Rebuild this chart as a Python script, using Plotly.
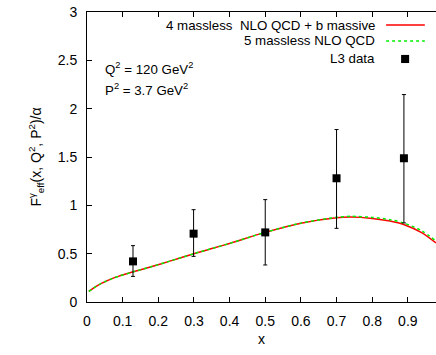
import plotly.graph_objects as go

# L3 data
data_x = [0.129, 0.299, 0.5, 0.7, 0.889]
data_y = [0.42, 0.707, 0.72, 1.28, 1.487]
data_hi = [0.583, 0.955, 1.059, 1.784, 2.146]
data_lo = [0.265, 0.472, 0.383, 0.762, 0.818]

# theory curves
curve_x = [0.005, 0.02, 0.035, 0.05, 0.07, 0.09, 0.13, 0.18, 0.23, 0.3, 0.355, 0.4, 0.5, 0.6,
           0.7, 0.74, 0.8, 0.85, 0.89, 0.94, 0.979]
red_y = [0.11, 0.148, 0.182, 0.21, 0.242, 0.268, 0.312, 0.365, 0.42, 0.5, 0.558, 0.606, 0.72, 0.815,
         0.872, 0.879, 0.865, 0.838, 0.80, 0.715, 0.61]
green_y = [0.11, 0.148, 0.182, 0.21, 0.242, 0.268, 0.312, 0.365, 0.42, 0.5, 0.558, 0.606, 0.72, 0.816,
           0.876, 0.886, 0.875, 0.852, 0.815, 0.735, 0.63]

legend_labels = ["4 massless  NLO QCD + b massive", "5 massless NLO QCD", "L3 data"]

FONT = "Liberation Sans, Arial, Helvetica, sans-serif"
FS = 14
LFS = 13.3

fig = go.Figure()
fig.add_trace(go.Scatter(x=curve_x, y=red_y, mode="lines",
                         line=dict(color="#ff0000", width=1.5, shape="spline", smoothing=0.8),
                         showlegend=False))
fig.add_trace(go.Scatter(x=curve_x, y=green_y, mode="lines",
                         line=dict(color="#00ee00", width=1.5, dash="dot", shape="spline", smoothing=0.8),
                         showlegend=False))
err_plus = [h - y for h, y in zip(data_hi, data_y)]
err_minus = [y - l for y, l in zip(data_y, data_lo)]
fig.add_trace(go.Scatter(x=data_x, y=data_y, mode="markers",
                         marker=dict(symbol="square", size=8, color="black"),
                         error_y=dict(type="data", symmetric=False, array=err_plus, arrayminus=err_minus,
                                      color="black", thickness=1, width=2),
                         showlegend=False))

# manual legend (text to the left of sample, gnuplot style)
rows_y = [0.955, 0.9, 0.838]
for lab, yy in zip(legend_labels, rows_y):
    fig.add_annotation(text=lab.replace("  ", "&nbsp; "), xref="paper", yref="paper", x=0.832, y=yy,
                       xanchor="right", yanchor="middle",
                       showarrow=False, font=dict(family=FONT, size=LFS, color="black"))
fig.add_shape(type="line", xref="paper", yref="paper", x0=0.857, x1=0.968, y0=rows_y[0], y1=rows_y[0],
              line=dict(color="#ff0000", width=1.5))
fig.add_shape(type="line", xref="paper", yref="paper", x0=0.857, x1=0.968, y0=rows_y[1], y1=rows_y[1],
              line=dict(color="#00ee00", width=1.5, dash="dot"))
fig.add_shape(type="rect", xref="paper", yref="paper", x0=0.9, x1=0.923, y0=rows_y[2] - 0.014, y1=rows_y[2] + 0.014,
              line=dict(width=0), fillcolor="black")

fig.add_annotation(text="Q<sup>2</sup> = 120 GeV<sup>2</sup>", xref="paper", yref="paper", x=0.046, y=0.805,
                   xanchor="left", yanchor="middle", showarrow=False, font=dict(family=FONT, size=LFS, color="black"))
fig.add_annotation(text="P<sup>2</sup> = 3.7 GeV<sup>2</sup>", xref="paper", yref="paper", x=0.046, y=0.732,
                   xanchor="left", yanchor="middle", showarrow=False, font=dict(family=FONT, size=LFS, color="black"))

fig.update_layout(
    width=436, height=355,
    margin=dict(l=87, r=0, t=12, b=53),
    paper_bgcolor="white", plot_bgcolor="white",
    font=dict(family=FONT, size=FS, color="black"),
    showlegend=False,
)
fig.update_xaxes(range=[0, 0.979], tickvals=[0, 0.1, 0.2, 0.3, 0.4, 0.5, 0.6, 0.7, 0.8, 0.9],
                 ticktext=["0", "0.1", "0.2", "0.3", "0.4", "0.5", "0.6", "0.7", "0.8", "0.9"],
                 ticks="inside", ticklen=5, tickcolor="black", showline=True, linecolor="black", linewidth=1,
                 mirror="ticks", showgrid=False, zeroline=False, ticklabelstandoff=6,
                 title=dict(text="x", standoff=6, font=dict(family=FONT, size=FS)))
fig.update_yaxes(range=[0, 3], tickvals=[0, 0.5, 1, 1.5, 2, 2.5, 3],
                 ticktext=["0", "0.5", "1", "1.5", "2", "2.5", "3"],
                 ticks="inside", ticklen=5, tickcolor="black", showline=True, linecolor="black", linewidth=1,
                 mirror=False, showgrid=False, zeroline=False, ticklabelstandoff=6,
                 title=dict(text="F<sup>γ</sup><sub>eff</sub>(x, Q<sup>2</sup>, P<sup>2</sup>)/α", standoff=12,
                            font=dict(family=FONT, size=FS)))

fig.write_html("out.html")
